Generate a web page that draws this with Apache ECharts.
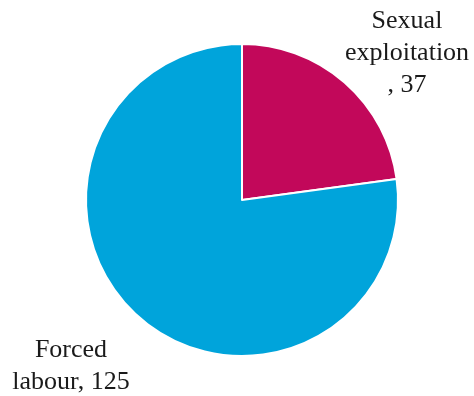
<!DOCTYPE html>
<html>
<head>
<meta charset="utf-8">
<script src="https://cdn.jsdelivr.net/npm/echarts@6/dist/echarts.min.js"></script>
<style>html,body{margin:0;padding:0;background:#fff}#c{width:474px;height:396px}</style>
</head>
<body>
<div id="c"></div>
<script>
const categories = ['Sexual\nexploitation\n', 'Forced\nlabour'];
const values = [37, 125];
const colors = ['#C2085A', '#00A4DB'];

const chart = echarts.init(document.getElementById('c'), null, {renderer: 'canvas'});
const labelPos = [
  {x: 407, y: 53},
  {x: 71, y: 366}
];
chart.setOption({
  animation: false,
  series: [{
    type: 'pie',
    center: [242, 200],
    radius: [0, 156],
    startAngle: 90,
    clockwise: true,
    data: categories.map((n, i) => ({name: n, value: values[i], itemStyle: {color: colors[i]}})),
    itemStyle: {borderColor: '#fff', borderWidth: 2},
    label: {
      show: true,
      position: 'outside',
      formatter: p => p.name + ', ' + p.value,
      fontFamily: 'Liberation Serif',
      fontSize: 26,
      lineHeight: 32,
      color: '#1a1a1a',
      align: 'center',
      overflow: 'none',
      width: 300
    },
    labelLine: {show: false},
    labelLayout: p => ({x: labelPos[p.dataIndex].x, y: labelPos[p.dataIndex].y, align: 'center', verticalAlign: 'middle'}),
    emphasis: {disabled: true}
  }]
});
</script>
</body>
</html>
